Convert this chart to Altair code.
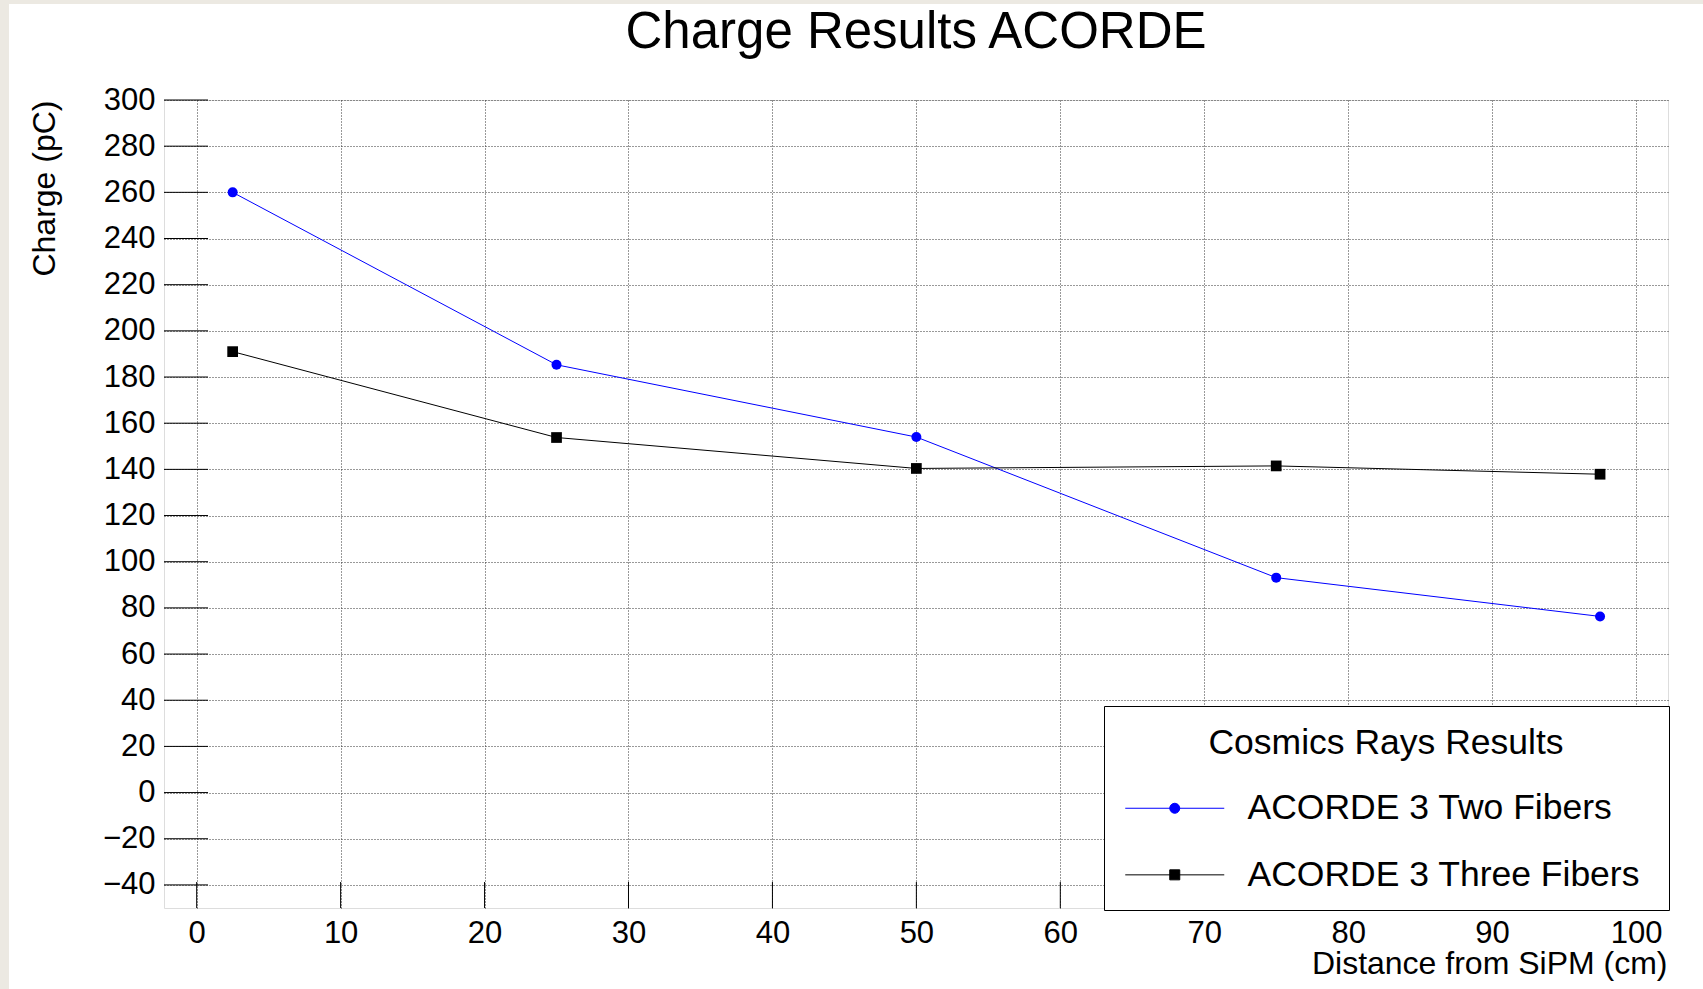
import altair as alt
import pandas as pd

# ---------------- data ----------------
series_names = ["ACORDE 3 Two Fibers", "ACORDE 3 Three Fibers"]
distance_cm = [2.5, 25, 50, 75, 97.5]
charge_two_fibers = [260.0, 185.3, 154.0, 93.1, 76.3]
charge_three_fibers = [191.0, 153.8, 140.4, 141.5, 137.9]
series_colors = ["#0000ff", "#000000"]
series_shapes = ["circle", "square"]
x_ticks = [0, 10, 20, 30, 40, 50, 60, 70, 80, 90, 100]
y_ticks = [-40, -20, 0, 20, 40, 60, 80, 100, 120, 140, 160, 180, 200, 220, 240, 260, 280, 300]

df = pd.DataFrame({
    "distance": distance_cm * 2,
    "charge": charge_two_fibers + charge_three_fibers,
    "series": [series_names[0]] * len(distance_cm) + [series_names[1]] * len(distance_cm),
})
xt = pd.DataFrame({"distance": x_ticks})
yt = pd.DataFrame({"charge": y_ticks})
one = pd.DataFrame({"a": [0]})

W, H = 1504, 808
FONT = "Liberation Sans"

xscale = alt.Scale(domain=[-2.27, 102.22], nice=False, zero=False)
yscale = alt.Scale(domain=[-50, 300], nice=False, zero=False)
cscale = alt.Scale(domain=series_names, range=series_colors)

x_axis = alt.Axis(
    values=x_ticks, format="d", title="Distance from SiPM (cm)",
    ticks=False, tickSize=0, domain=False,
    labelFont=FONT, labelFontSize=31, labelColor="black",
    labelBaseline="alphabetic", labelPadding=34, labelFlush=False,
    grid=True, gridColor="#333333", gridDash=[1, 2], gridWidth=1, gridOpacity=1,
    titleFont=FONT, titleFontSize=32, titleFontWeight="normal", titleColor="black",
    titleAlign="right", titleBaseline="alphabetic", titleX=W - 1, titleY=65,
)
y_axis = alt.Axis(
    values=y_ticks, format="d", title="Charge (pC)",
    ticks=False, tickSize=0, domain=False,
    labelFont=FONT, labelFontSize=31, labelColor="black", labelPadding=9,
    grid=True, gridColor="#333333", gridDash=[1, 2], gridWidth=1, gridOpacity=1,
    titleFont=FONT, titleFontSize=32, titleFontWeight="normal", titleColor="black",
    titleAngle=270, titleAlign="right", titleBaseline="alphabetic", titleX=-110, titleY=0,
)

# legend sample: a line with the series marker in its middle (unit = 5 px);
# the trailing zero-length segment only widens the legend frame
circle_path = "M-2.5,0H17.3M8.4,0A1,1,0,1,1,6.4,0A1,1,0,1,1,8.4,0ZM102.5,0L102.5,0"
square_path = "M-2.5,0H17.3M6.4,-1H8.4V1H6.4ZM102.5,0L102.5,0"
n0 = series_names[0]
legend = alt.Legend(
    title=["", "Cosmics Rays Results"], orient="none", legendX=940, legendY=606,
    padding=16, fillColor="white", strokeColor="black",
    titleFont=FONT, titleFontSize=35.5, titleFontWeight="normal", titleColor="black",
    titleAnchor="middle", titlePadding=29, titleLimit=2000, titleLineHeight=4,
    labelFont=FONT, labelFontSize=35.5, labelColor="black", labelOffset=92, labelLimit=2000,
    rowPadding=29.6, symbolSize=100, symbolStrokeWidth=1, symbolOpacity=1,
    symbolType=alt.ExprRef(f"datum.value === '{n0}' ? '{circle_path}' : '{square_path}'"),
    zindex=3,
)

base = alt.Chart(df)

lines = base.mark_line(strokeWidth=1).encode(
    x=alt.X("distance:Q", scale=xscale, axis=x_axis),
    y=alt.Y("charge:Q", scale=yscale, axis=y_axis),
    color=alt.Color("series:N", scale=cscale, legend=legend),
    detail="series:N",
)

point_layers = []
for name, shape, size in zip(series_names, series_shapes, [100, 115]):
    point_layers.append(
        base.transform_filter(alt.datum.series == name)
        .mark_point(filled=True, opacity=1, shape=shape, size=size)
        .encode(
            x=alt.X("distance:Q", scale=xscale),
            y=alt.Y("charge:Q", scale=yscale),
            color=alt.Color("series:N", scale=cscale, legend=legend),
        )
    )

ytick_marks = alt.Chart(yt).mark_rule(color="black", strokeWidth=1).encode(
    y=alt.Y("charge:Q", scale=yscale), x=alt.value(0), x2=alt.value(44)
)
xtick_marks = alt.Chart(xt).mark_rule(color="black", strokeWidth=1).encode(
    x=alt.X("distance:Q", scale=xscale), y=alt.value(H - 26), y2=alt.value(H)
)

strip_color = "#ECE9E2"
left_strip = alt.Chart(one).mark_rect(color=strip_color).encode(
    x=alt.value(-164), x2=alt.value(-155), y=alt.value(-100), y2=alt.value(H + 81)
)
top_strip = alt.Chart(one).mark_rect(color=strip_color).encode(
    x=alt.value(-164), x2=alt.value(W + 35), y=alt.value(-100), y2=alt.value(-96)
)

chart = alt.layer(
    left_strip, top_strip, ytick_marks, xtick_marks, lines, *point_layers
).properties(
    width=W, height=H,
    title=alt.TitleParams(
        "Charge Results ACORDE", font=FONT, fontSize=51, fontWeight="normal",
        color="black", anchor="middle", baseline="alphabetic", offset=-99, frame="group",
    ),
    autosize=alt.AutoSizeParams(type="none"),
    padding={"left": 164, "top": 100, "right": 35, "bottom": 81},
    background="white",
).configure_view(
    stroke="black", strokeWidth=1, fill="white"
).configure(font=FONT)

chart.save("out.html", embed_options={"renderer": "svg", "actions": False})
